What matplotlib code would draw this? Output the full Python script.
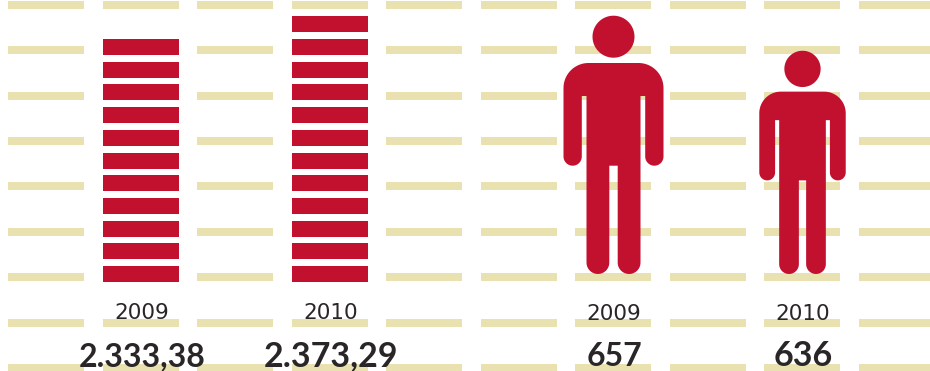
#!/usr/bin/env python3
"""Pictogramas 2009/2010: pilas de ladrillos y figuras humanas sobre franjas."""

import matplotlib

matplotlib.use("Agg")
import matplotlib.pyplot as plt
import numpy as np

ROJO = "#c1112f"
FRANJA = "#e9e2b0"
TEXTO = "#2a2627"

# Datos
anios = ["2009", "2010"]
ladrillos = [11, 12]
valores_ladrillos = ["2.333,38", "2.373,29"]
alturas_figura = [258, 223]
valores_figura = ["657", "636"]

# Ejes en píxeles, con el origen arriba
fig = plt.figure(figsize=(9.3, 3.71), dpi=100)
ax = fig.add_axes([0, 0, 1, 1])
ax.set_xlim(0, 930)
ax.set_ylim(371, 0)
ax.axis("off")

# Franjas de fondo
col_x = 8 + 94.5 * np.arange(10)
fila_y = 1 + 45.37 * np.arange(9)
for y in fila_y:
    ax.bar(col_x, 8, width=76, bottom=y, align="edge", color=FRANJA, zorder=1)

# Pilas de ladrillos
BASE = 282
for x, n in zip([103, 292], ladrillos):
    tops = BASE - 16 - 22.7 * np.arange(n)
    ax.bar(np.full(n, x), 16, width=76, bottom=tops, align="edge", color=ROJO, zorder=2)


def arco(cx, cy, r, a0, a1, n=24):
    t = np.radians(np.linspace(a0, a1, n))
    return np.column_stack([cx + r * np.cos(t), cy + r * np.sin(t)])


def contorno_figura():
    """Silueta en unidades de la figura alta, con x=0 al centro e y=0 en la cabeza."""
    pie = 258
    mano = 149.7
    hombro = 47
    partes = [
        arco(-25, hombro + 25, 25, 180, 270),
        arco(25, hombro + 25, 25, 270, 360),
        arco(40.85, mano - 9.15, 9.15, 0, 180),
        [[31.7, 80], [27, 80]],
        arco(15.6, pie - 11.4, 11.4, 0, 180),
        [[4.2, mano], [-4.2, mano]],
        arco(-15.6, pie - 11.4, 11.4, 0, 180),
        [[-27, 80], [-31.7, 80]],
        arco(-40.85, mano - 9.15, 9.15, 0, 180),
    ]
    return np.vstack(partes)


# Figuras humanas, escaladas desde los pies
PIES = 274
silueta = contorno_figura()
cabeza = arco(0, 20.7, 21, 0, 360, n=72)
for cx, alto in zip([613.5, 802.5], alturas_figura):
    k = alto / alturas_figura[0]
    for forma in (silueta, cabeza):
        ax.fill(cx + forma[:, 0] * k, PIES - alto + forma[:, 1] * k,
                color=ROJO, lw=0, zorder=2)

# Rótulos
for x, anio in zip([142, 331], anios):
    ax.text(x, 319, anio, ha="center", va="baseline", fontsize=15.5,
            family="DejaVu Sans", color=TEXTO, zorder=3)
for x, anio in zip([614, 803], anios):
    ax.text(x, 320, anio, ha="center", va="baseline", fontsize=15.5,
            family="DejaVu Sans", color=TEXTO, zorder=3)
for x, val, fs in zip([142, 331], valores_ladrillos, [23, 24.5]):
    ax.text(x, 366, val, ha="center", va="baseline", fontsize=fs,
            family="Lato", fontweight="bold", color=TEXTO, zorder=3)
for x, val, fs in zip([614.5, 803.5], valores_figura, [23, 24.5]):
    ax.text(x, 366, val, ha="center", va="baseline", fontsize=fs,
            family="Lato", fontweight="bold", color=TEXTO, zorder=3)

fig.savefig("out.png", dpi=100, facecolor="white")
